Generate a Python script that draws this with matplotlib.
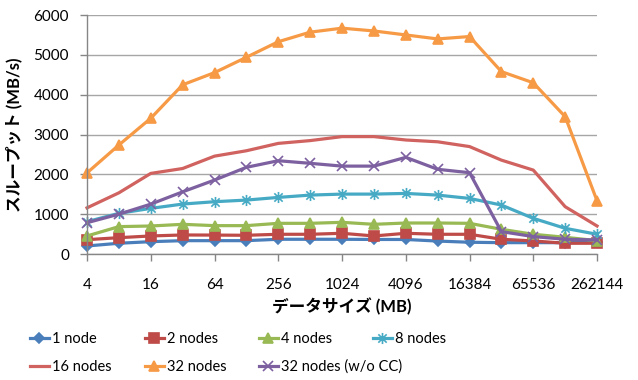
import matplotlib
matplotlib.use('Agg')
from matplotlib import pyplot as plt
from matplotlib.path import Path

plt.rcParams['font.family'] = ['Lato', 'Noto Sans CJK JP', 'DejaVu Sans']

# Data sizes (MB): 4 .. 262144, every other one labelled
sizes = [4, 8, 16, 32, 64, 128, 256, 512, 1024, 2048, 4096, 8192,
         16384, 32768, 65536, 131072, 262144]
tick_labels = ['4', '16', '64', '256', '1024', '4096', '16384', '65536', '262144']

# Throughput (MB/s)
node1 = [207, 275, 315, 340, 340, 340, 375, 375, 375, 370, 370, 330,
         300, 290, 290, 290, 300]
node2 = [365, 415, 458, 483, 480, 475, 500, 500, 525, 458, 525, 500,
         500, 375, 333, 275, 275]
node4 = [458, 692, 708, 750, 717, 717, 775, 775, 800, 750, 783, 783,
         775, 625, 500, 425, 340]
node8 = [817, 1025, 1150, 1258, 1317, 1358, 1425, 1483, 1508, 1508, 1525,
         1483, 1400, 1233, 900, 650, 500]
node16 = [1163, 1540, 2027, 2150, 2460, 2595, 2780, 2850, 2950, 2950, 2865,
          2820, 2700, 2360, 2110, 1192, 708]
node32 = [2040, 2740, 3410, 4250, 4555, 4940, 5330, 5570, 5670, 5600, 5500,
          5400, 5460, 4580, 4300, 3450, 1340]
node32_nocc = [790, 1005, 1256, 1565, 1860, 2180, 2345, 2280, 2210, 2210,
               2430, 2130, 2045, 567, 442, 375, 358]

# Excel-style "star" marker: an x with a vertical bar
star = Path([(0, -1), (0, 1), (-0.75, -0.75), (0.75, 0.75), (-0.75, 0.75), (0.75, -0.75)],
            [Path.MOVETO, Path.LINETO, Path.MOVETO, Path.LINETO, Path.MOVETO, Path.LINETO])

series = [
    ('1 node', node1, '#4a7ebb', 'D', 5.5),
    ('2 nodes', node2, '#be4b48', 's', 6.5),
    ('4 nodes', node4, '#98b954', '^', 7),
    ('8 nodes', node8, '#46aac5', star, 8),
    ('16 nodes', node16, '#d0625f', None, 0),
    ('32 nodes', node32, '#f79a46', '^', 7),
    ('32 nodes (w/o CC)', node32_nocc, '#7d60a0', 'x', 7),
]

fig = plt.figure(figsize=(6.38, 3.8), dpi=100)
ax = fig.add_axes([0.1364, 0.331, 0.7994, 0.6295])

x = list(range(len(sizes)))
handles = []
for label, vals, color, marker, ms in series:
    h, = ax.plot(x, vals, color=color, lw=2.3, marker=marker, markersize=ms,
                 markerfacecolor=color, markeredgecolor=color, markeredgewidth=1.2,
                 label=label, solid_joinstyle='round', clip_on=False)
    handles.append(h)

ax.set_xlim(0, len(sizes) - 1)
ax.set_ylim(0, 6000)
ax.set_yticks(range(0, 6001, 1000))
ax.set_xticks(x[::2])
ax.set_xticklabels(tick_labels)
ax.yaxis.grid(True, color='#a6a6a6', lw=1)
ax.set_axisbelow(True)
for s in ['top', 'right']:
    ax.spines[s].set_visible(False)
for s in ['left', 'bottom']:
    ax.spines[s].set_color('#868686')
    ax.spines[s].set_linewidth(1)
ax.tick_params(axis='both', colors='#868686', labelcolor='black', labelsize=11,
               length=5, width=1)
ax.tick_params(axis='y', pad=8)
ax.tick_params(axis='x', pad=12)

ax.set_xlabel('データサイズ (MB)', fontsize=12, fontweight='bold', labelpad=4)
ax.set_ylabel('スループット (MB/s)', fontsize=12, fontweight='bold', labelpad=8)

# legend: four columns laid out row by row
col_x = [30, 145, 259, 373]
for c in range(4):
    hs = [handles[i] for i in (c, c + 4) if i < len(handles)]
    fig.legend(handles=hs, loc='upper left', bbox_to_anchor=(col_x[c] / 638, 1 - 332 / 380),
               frameon=False, fontsize=10.5, handlelength=1.3, handletextpad=0.2,
               labelspacing=0.95, borderaxespad=0, borderpad=0)

fig.savefig('out.png', dpi=100)
